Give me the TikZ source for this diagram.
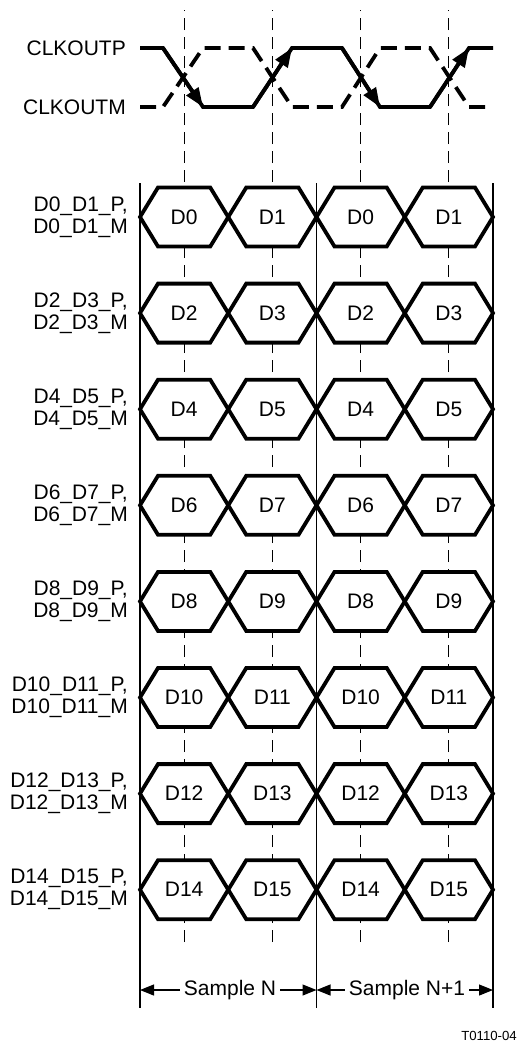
\documentclass[tikz,border=0pt]{standalone}
\usepackage{fontspec}
\setmainfont{Liberation Sans}
\usetikzlibrary{arrows.meta}

\begin{document}
\begin{tikzpicture}[x=1pt, y=-1pt,
    lbl/.style={font=\fontsize{21}{22}\selectfont, inner sep=0pt},
    wave/.style={line width=3.8pt, line join=miter},
    clkarrow/.style={-{Triangle[length=19pt, width=14pt]}},
    edge/.style={line width=1pt, dash pattern=on 12pt off 7pt},
    bound/.style={line width=1.2pt},
    hexbox/.style={line width=3.8pt, line join=miter, fill=white},
    dim/.style={line width=1.2pt, {Triangle[length=14pt, width=11pt]}-{Triangle[length=14pt, width=11pt]}}]
    \useasboundingbox (0,0) rectangle (519,1044);

    % Clock edges
    \foreach \x in {184, 272.4, 360.6, 448.9}
        \draw[edge] (\x,942) -- (\x,10);

    % Sample boundaries
    \foreach \x/\n in {140/a, 316.5/b, 493/c}
        \draw[bound] (\x,183) coordinate (\n top) -- (\x,1008) coordinate (\n bot);

    % Clock
    \node[lbl, anchor=east] (clkp) at (126,48) {CLKOUTP};
    \node[lbl, anchor=east] (clkm) at (126,107) {CLKOUTM};
    \draw[wave] (140,48) -- (163,48) -- (203,107) -- (253,107) -- (292,48) -- (342,48)
        -- (380,107) -- (430,107) -- (469,48) -- (493,48);
    \draw[wave, dash pattern=on 16pt off 8pt] (140,107) -- (163,107) -- (203,48) -- (253,48)
        -- (292,107) -- (342,107) -- (380,48) -- (430,48) -- (469,107) -- (493,107);
    \foreach \xa/\ya/\xb/\yb in {163/48/203/107, 253/107/292/48, 342/48/380/107, 430/107/469/48}
        \draw[wave, clkarrow] (\xa,\ya) -- (\xb,\yb);

    % Data lanes
    \foreach \a/\b [count=\i from 0] in {0/1, 2/3, 4/5, 6/7, 8/9, 10/11, 12/13, 14/15} {
        \pgfmathsetmacro{\y}{217+96.1*\i}
        \node[lbl, anchor=east, align=right] (lane\i) at (128,\y) {D\a\_D\b\_P,\\D\a\_D\b\_M};
        \foreach \xs/\d [count=\c] in {140/\a, 228.25/\b, 316.5/\a, 404.75/\b} {
            \draw[hexbox] (\xs,\y) -- ++(18,-29.5) -- ++(52.25,0) -- ++(18,29.5)
                -- ++(-18,29.5) -- ++(-52.25,0) -- cycle;
            \node[lbl] (bit\i-\c) at (\xs+44.125,\y) {D\d};
        }
    }

    % Samples
    \coordinate (a mid) at (140,990);
    \coordinate (b mid) at (316.5,990);
    \coordinate (c mid) at (493,990);
    \draw[dim] (a mid) -- (b mid);
    \draw[dim] (b mid) -- (c mid);
    \node[lbl, fill=white, inner xsep=4pt, inner ysep=2pt] (smpn) at (230,990) {Sample N};
    \node[lbl, fill=white, inner xsep=4pt, inner ysep=2pt] (smpn1) at (407,990) {Sample N+1};

    \node[font=\fontsize{13.2}{14}\selectfont, anchor=east, inner sep=0pt] (figid) at (517,1036) {T0110-04};
\end{tikzpicture}
\end{document}
